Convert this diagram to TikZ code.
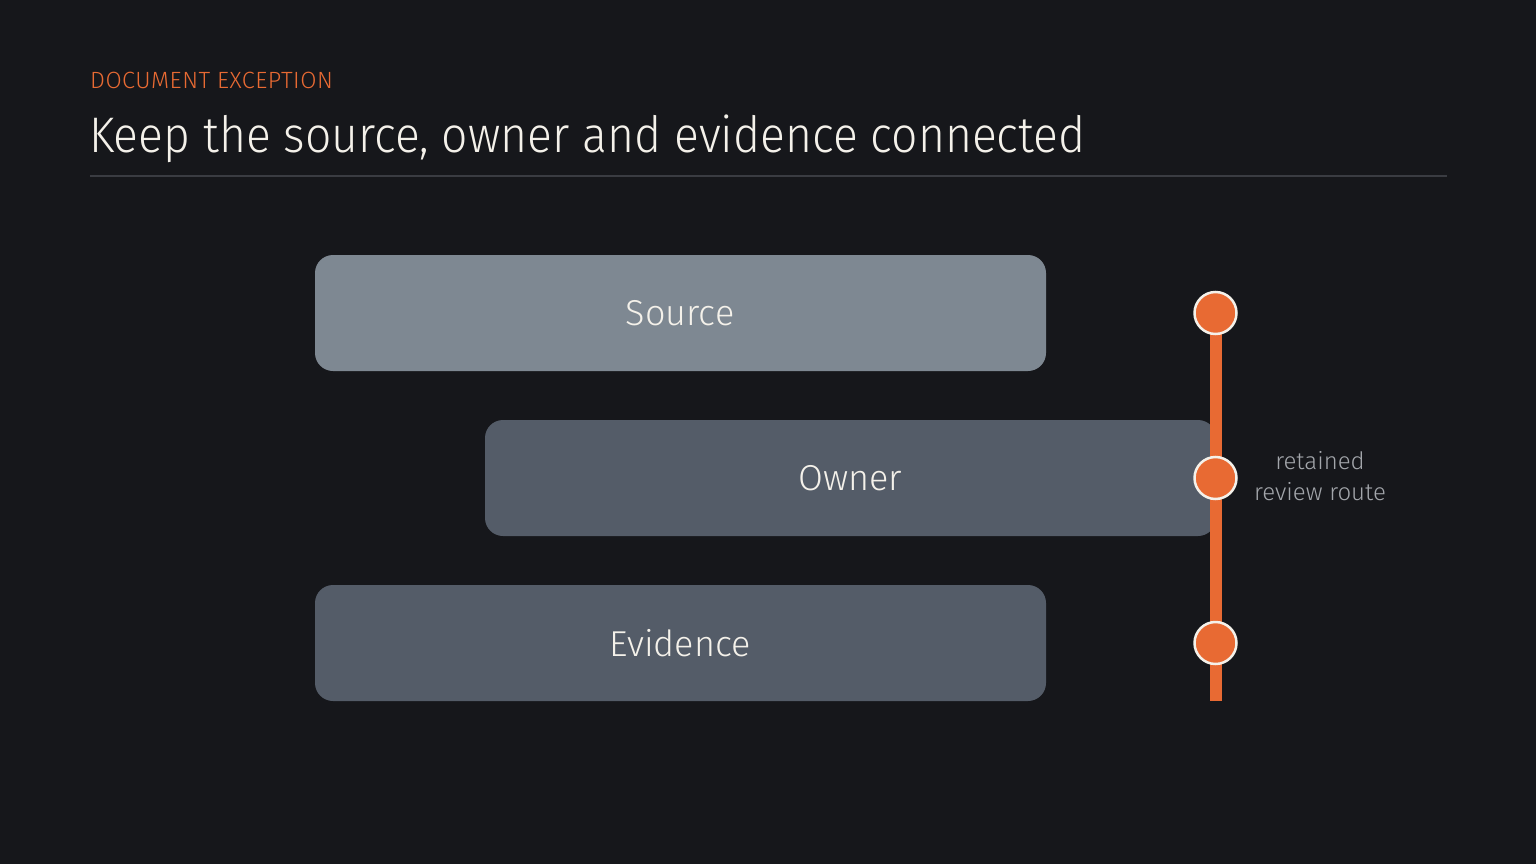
\documentclass[tikz,border=0pt]{standalone}
\usepackage{fontspec}
\setmainfont{Fira Sans Light}
\newfontfamily\titlefont[FakeStretch=0.925]{Fira Sans Light}
\newfontfamily\kickerfont[LetterSpace=2]{Fira Sans Light}
\definecolor{bg}{HTML}{16171B}
\definecolor{boxlight}{HTML}{7E8892}
\definecolor{boxdark}{HTML}{545C68}
\definecolor{accent}{HTML}{E86A33}
\definecolor{ink}{HTML}{F4F1EA}
\definecolor{muted}{HTML}{A3A6AB}
\definecolor{rule}{HTML}{3A3C42}
\tikzset{
  barlabel/.style={text=ink, font=\fontsize{36}{40}\selectfont},
  dot/.style={circle, fill=accent, draw=ink, line width=2.5pt, minimum size=42pt, inner sep=0pt},
}
\begin{document}
\begin{tikzpicture}[x=1pt,y=-1pt]
\useasboundingbox (0,0) rectangle (1536,864);
\fill[bg] (0,0) rectangle (1536,864);
\node[anchor=base west, inner sep=0pt, text=accent, font=\kickerfont\fontsize{23.5}{26}\selectfont] (kicker) at (90,89) {DOCUMENT EXCEPTION};
\node[anchor=base west, inner sep=0pt, text=ink, font=\titlefont\fontsize{50}{56}\selectfont] (title) at (89,153) {Keep the source, owner and evidence connected};
\draw[rule, line width=1.5pt] (90,176) coordinate (r1) -- (1447,176) coordinate (r2);
% route line
\coordinate (ltop) at (1215.5,313);
\coordinate (lbot) at (1215.5,701);
\draw[accent, line width=12pt] (ltop) -- (lbot);
% bars
\fill[boxlight, rounded corners=18pt] (315,255) rectangle (1046,371);
\node[barlabel] (source) at (680,313) {Source};
\fill[boxdark, rounded corners=18pt] (485,420) rectangle (1216,536);
\node[barlabel] (owner) at (850,478) {Owner};
\fill[boxdark, rounded corners=18pt] (315,585) rectangle (1046,701);
\node[barlabel] (evidence) at (680,643) {Evidence};
\draw[accent, line width=12pt] (1215.5,420) -- (1215.5,536);
% dots
\node[dot] (d1) at (1215.5,313) {};
\node[dot] (d2) at (1215.5,478) {};
\node[dot] (d3) at (1215.5,643) {};
\node[text=muted, align=center, font=\fontsize{24}{31}\selectfont] (lab) at (1320,476) {retained\\review route};
\end{tikzpicture}
\end{document}
